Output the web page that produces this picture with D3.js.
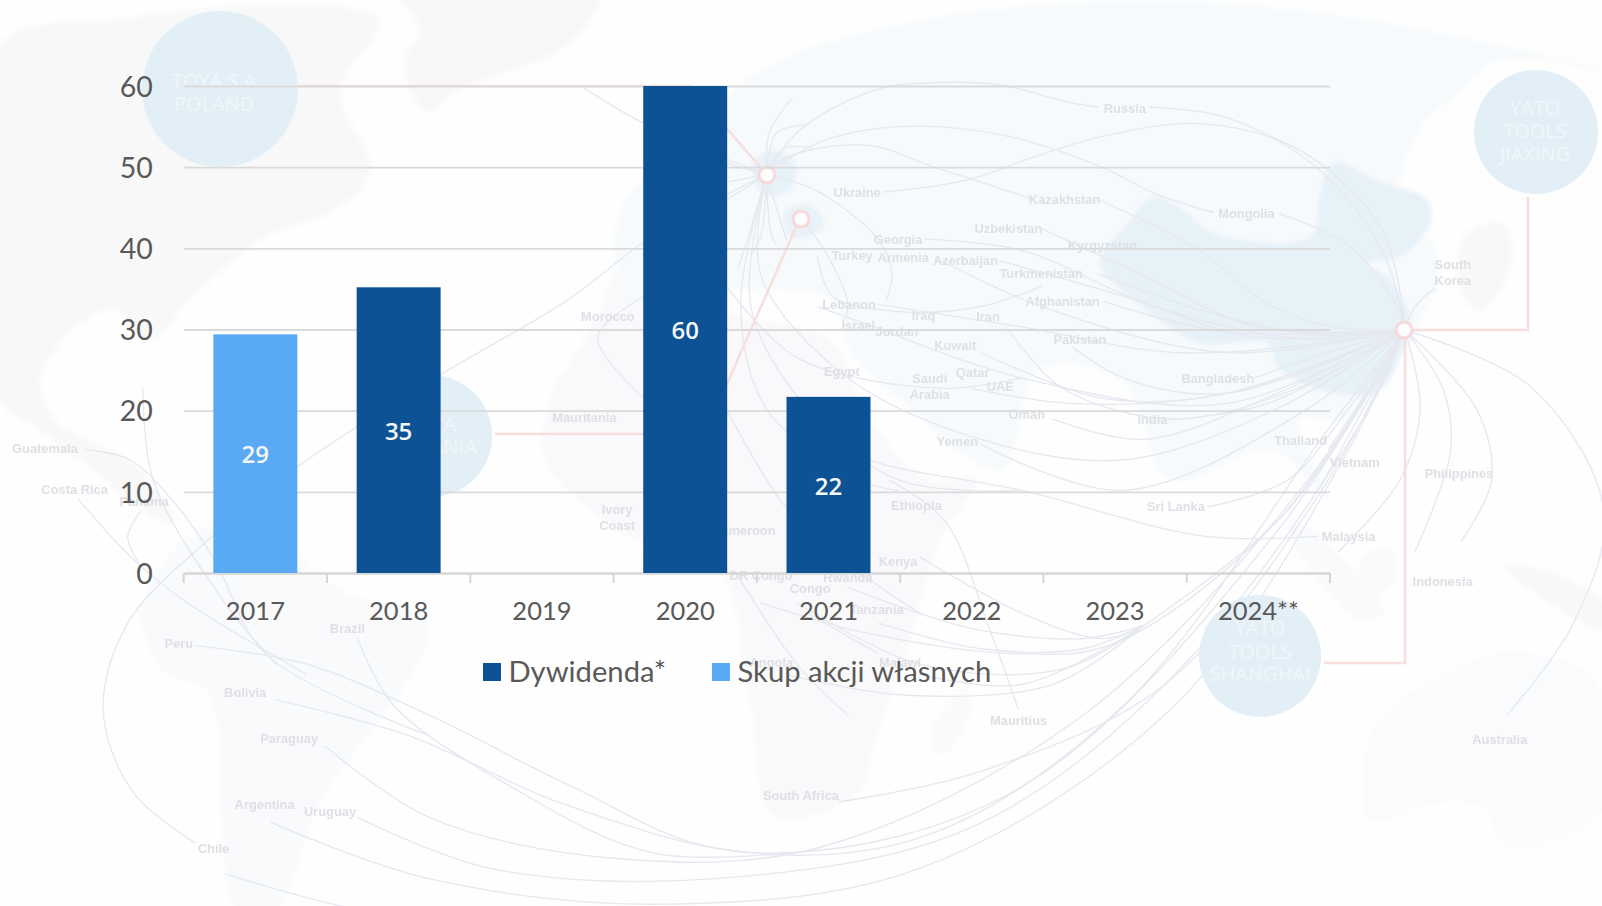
<!DOCTYPE html>
<html>
<head>
<meta charset="utf-8">
<script src="https://cdn.jsdelivr.net/npm/d3@7"></script>
<style>
html, body { margin: 0; padding: 0; background: #fefefe; }
svg { display: block; }
</style>
</head>
<body>
<script>
// Chart data
var years = ["2017", "2018", "2019", "2020", "2021", "2022", "2023", "2024**"];
var dividend = [null, 35.2, null, 60, 21.7, null, null, null];
var buyback = [29.4, null, null, null, null, null, null, null];
var yTicks = [0, 10, 20, 30, 40, 50, 60];
var seriesNames = ["Dywidenda*", "Skup akcji własnych"];
var seriesColors = ["#0d5295", "#5aa9f4"];

// Chart layout
var width = 1602;
var height = 906;
var plotLeft = 183.7;
var plotRight = 1330;
var plotTop = 86;
var plotBottom = 573;

// Background map, land shapes (page pixels)
var landShapes = [
	{ fill: "#f8f8f8", pts: [[0,45],[110,20],[300,5],[380,20],[340,90],[370,170],[335,210],[260,240],[190,300],[150,340],[115,310],[85,320],[55,350],[40,385],[60,425],[110,450],[140,470],[175,525],[150,515],[100,475],[40,430],[0,400]] },
	{ fill: "#f7f7f7", pts: [[400,-10],[600,-10],[590,20],[560,50],[510,70],[450,95],[430,112],[415,100],[405,60],[420,30]] },
	{ fill: "#f8fafc", pts: [[200,530],[280,540],[340,590],[428,623],[402,690],[364,740],[318,807],[275,910],[237,910],[207,690],[165,673],[142,607]] },
	{ fill: "#f9f9fb", pts: [[640,245],[590,330],[550,400],[545,460],[590,510],[640,540],[700,540],[730,590],[750,700],[775,817],[860,790],[875,740],[909,640],[940,540],[977,477],[930,480],[870,420],[830,340],[720,310]] },
	{ fill: "#f9fafb", pts: [[932,730],[965,690],[970,710],[950,750],[935,752]] },
	{ fill: "#f7fafc", pts: [[700,130],[760,70],[920,20],[1100,2],[1250,5],[1400,25],[1602,70],[1500,60],[1450,100],[1420,130],[1400,200],[1440,260],[1410,340],[1350,420],[1300,420],[1330,500],[1270,450],[1170,480],[1120,380],[1040,370],[1000,470],[900,400],[850,350],[830,300],[740,290],[630,300],[620,210]] },
	{ fill: "#e7f1f8", pts: [[1128,223],[1153,197],[1183,210],[1213,233],[1310,237],[1320,193],[1333,163],[1383,183],[1427,200],[1430,223],[1400,257],[1367,263],[1387,277],[1410,317],[1403,350],[1380,390],[1333,393],[1280,370],[1267,343],[1200,343],[1143,307],[1100,263]] },
	{ fill: "#f9fbfc", pts: [[1373,733],[1467,663],[1523,653],[1587,673],[1610,720],[1610,800],[1567,833],[1507,847],[1483,807],[1433,803],[1370,820]] },
	{ fill: "#f8fafb", pts: [[1361,560],[1385,548],[1399,570],[1380,592],[1362,585]] },
	{ fill: "#f8fafb", pts: [[1288,520],[1310,530],[1384,612],[1360,620],[1310,570]] },
	{ fill: "#f8f8f8", pts: [[1507,567],[1560,575],[1610,610],[1610,630],[1560,610]] },
	{ fill: "#f8f8f8", pts: [[1465,235],[1505,225],[1510,270],[1480,310],[1460,290]] },
	{ fill: "#e7f1f8", pts: [[752,165],[775,150],[795,165],[790,190],[765,195]] },
	{ fill: "#e9f2f8", pts: [[785,210],[810,205],[825,225],[805,238],[788,235]] }
];

// Company circles (page pixels)
var companyCircles = [
	{ cx: 220, cy: 89, r: 78, lines: [["TOYA S.A", 214, 88], ["POLAND", 214, 111]] },
	{ cx: 431, cy: 436, r: 61, lines: [["TOYA", 431, 431], ["ROMANIA", 431, 454]] },
	{ cx: 1536, cy: 132, r: 62, lines: [["YATO", 1535, 115], ["TOOLS", 1535, 138], ["JIAXING", 1535, 161]] },
	{ cx: 1260, cy: 656, r: 61, lines: [["YATO", 1260, 635], ["TOOLS", 1260, 659], ["SHANGHAI", 1260, 681]] }
];
var redLines = [
	[[298,86],[690,86],[767,175]],
	[[495,434],[705,434],[800,218]],
	[[1528,197],[1528,330],[1404,330]],
	[[1324,663],[1405,663],[1405,330]]
];
var markers = [[1404,330],[767,175],[801,219]];

// Country names and routes, read in the 1568 wide picture
var hub = [1375,323];
var pol = [750,171];
var countryLabels = [
	["Russia",1101,106],["Ukraine",839,188],["Kazakhstan",1042,195],["Mongolia",1220,209],["Uzbekistan",987,224],
	["Georgia",879,234],["Kyrgyzstan",1079,240],["Turkey",834,250],["Armenia",884,252],["Azerbaijan",945,255],
	["Turkmenistan",1019,268],["South",1422,259],["Korea",1422,275],["Afghanistan",1040,295],["Lebanon",831,298],
	["Morocco",595,310],["Iraq",904,309],["Iran",967,310],["Israel",840,319],["Jordan",878,324],["Pakistan",1057,332],
	["Kuwait",935,338],["Egypt",824,364],["Saudi",910,370],["Arabia",910,386],["Qatar",952,365],["UAE",979,378],
	["Bangladesh",1192,370],["Mauritania",572,409],["Oman",1005,406],["India",1128,411],["Yemen",937,432],
	["Guatemala",44,439],["Thailand",1273,431],["Vietnam",1326,453],["Philippines",1428,463],["Costa Rica",73,479],
	["Panama",141,491],["Ethiopia",897,495],["Sri Lanka",1151,496],["Ivory",604,499],["Coast",604,514],
	["Cameroon",728,519],["Malaysia",1320,525],["Kenya",879,550],["DR Congo",745,563],["Rwanda",830,565],
	["Congo",793,576],["Indonesia",1412,569],["Tanzania",858,597],["Brazil",340,615],["Peru",175,630],
	["Angola",755,648],["Malawi",881,648],["Bolivia",240,678],["Mauritius",997,705],["Paraguay",283,723],
	["Australia",1468,724],["South Africa",784,779],["Argentina",259,787],["Uruguay",323,794],["Chile",209,830]
];
var routes = [
	[[865,188],[947,176],[1011,154],[1077,134],[1175,121],[1272,147],[1353,225],hub],
	[pol,[783,127],[860,87],[913,81],[979,83],[1045,100],[1075,105]],
	[[1125,105],[1200,115],[1290,165],[1355,250],hub],
	[pol,[800,140],[880,124],[980,132],[1077,163],[1132,190],[1188,208]],
	[[1252,209],[1320,240],[1365,295],hub],
	[pol,[770,154],[848,142],[913,163],[1008,194]],
	[[1077,196],[1174,245],[1240,297],[1305,320],hub],
	[[1020,224],[1120,270],[1230,320],hub],
	[[1075,268],[1180,305],[1290,328],hub],
	[[978,255],[1100,290],[1230,330],hub],
	[[905,234],[1000,245],[1130,300],[1280,332],hub],
	[[915,252],[1020,300],[1200,345],hub],
	[[1080,295],[1200,325],hub],
	[[985,320],[1040,380],[1150,410],[1270,380],hub],
	[[960,345],[1080,390],[1200,385],hub],
	[[1050,340],[1100,370],[1200,385],hub],
	[[950,380],[1050,395],[1200,385],hub],
	[[1030,410],[1120,430],[1250,385],hub],
	[[960,435],[1100,480],[1280,400],hub],
	[[860,298],[1000,320],[1150,345],[1300,335],hub],
	[[800,300],[850,318],[1000,370],[1200,395],hub],
	[[1145,411],[1240,395],hub],
	[[1228,370],[1300,345],hub],
	[[1183,496],[1260,470],[1320,400],hub],
	[[1290,525],[1180,525],[1000,480],[850,450],[770,410]],
	[[1300,440],[1340,380],hub],
	[[1290,480],[1340,390],hub],
	[[1405,282],[1385,300],hub],
	[hub,[1412,380],[1420,440],[1385,540]],
	[hub,[1445,400],[1460,470],[1430,530]],
	[hub,[1500,380],[1570,500],[1540,610],[1475,700]],
	[hub,[1390,400],[1370,470],[1310,540]],
	// South America
	[[190,632],[300,650],[420,700],[560,770],[700,830],[900,820],[1100,690],[1300,420],hub],
	[[270,685],[400,720],[560,790],[760,835],[1000,770],[1250,520],hub],
	[[318,730],[420,800],[600,840],[800,830],[1060,700],[1280,470],hub],
	[[350,800],[480,850],[700,860],[950,810],[1150,660],[1340,400],hub],
	[[265,805],[420,860],[650,885],[900,850],[1150,690],[1320,440],hub],
	[[220,855],[350,890],[600,915]],
	[[350,625],[385,690],[500,770],[640,835],[800,832]],
	[[83,440],[127,450],[174,496],[210,548],[260,640],[420,720]],
	[[76,488],[131,548],[179,587],[300,660]],
	[[138,500],[125,525],[135,550]],
	[[140,380],[150,470],[220,590],[270,650]],
	// long arc from Poland round to Chile
	[pol,[640,230],[555,294],[431,367],[291,457],[202,530],[125,610],[101,695],[130,775],[191,825]],
	[pol,[629,120],[570,85]],
	// Africa to the hub, the fan near 2023
	[[745,590],[850,620],[1000,640],[1090,630],[1250,510],hub],
	[[830,575],[950,615],[1060,625],[1120,612]],
	[[860,610],[960,635],[1060,635],[1120,612]],
	[[780,590],[900,650],[1040,655],[1120,612]],
	[[770,660],[880,680],[1030,670],[1120,612]],
	[[900,660],[1000,670],[1120,612]],
	[[900,545],[1000,600],[1080,625],[1120,612]],
	[[820,785],[960,755],[1140,670],[1300,470],hub],
	[[997,695],[970,620],[925,510],[870,470]],
	[[1120,612],[1260,500],hub],
	[[711,400],[780,510],[900,600]],
	[[720,560],[780,650],[830,700]],
	[[790,600],[860,640]],
	// Poland fan
	[pol,[753,130],[775,96]],
	[pol,[760,130],[790,122]],
	[pol,[768,145],[795,145]],
	[pol,[712,195]],
	[pol,[712,178]],
	[pol,[712,160]],
	[pol,[745,230],[735,250]],
	[pol,[755,230],[760,240]],
	[pol,[765,220],[770,235]],
	[pol,[730,240],[722,262]],
	[pol,[725,300],[750,400],[840,470],[880,480]],
	[pol,[735,300],[790,400],[880,470],[1000,480]],
	[pol,[745,270],[830,370],[960,430],[1100,450],[1250,400],hub],
	[pol,[800,187],[860,235],[873,267],[867,295]],
	[[800,250],[815,290],[880,305],[960,300],[1020,280]],
	[[784,214],[810,250],[830,300],[825,315]],
	[[711,280],[780,350],[920,380],[1000,370]],
	[[630,290],[585,330],[630,390]]
];

// Build the page
var svg = d3.select("body").append("svg")
	.attr("width", width)
	.attr("height", height)
	.style("font-family", "Lato, sans-serif");

svg.append("rect").attr("width", width).attr("height", height).attr("fill", "#fefefe");

function drawMap() {
	var blob = d3.line().curve(d3.curveCatmullRomClosed);
	var landG = svg.append("g").style("filter", "blur(2px)");
	landG.selectAll("path").data(landShapes).enter().append("path")
		.attr("d", function(d) { return blob(d.pts); })
		.attr("fill", function(d) { return d.fill; });

	// routes and names use picture coordinates, so scale the group up
	var picG = svg.append("g")
		.attr("transform", "scale(" + (width / 1568) + ")")
		.style("filter", "blur(0.35px)");
	var curve = d3.line().curve(d3.curveCatmullRom);
	picG.selectAll("path").data(routes).enter().append("path")
		.attr("d", curve)
		.attr("fill", "none")
		.attr("stroke", "#e6e8f0")
		.attr("stroke-width", 1.3);
	picG.selectAll("text").data(countryLabels).enter().append("text")
		.attr("x", function(d) { return d[1]; })
		.attr("y", function(d) { return d[2]; })
		.attr("dy", ".35em")
		.attr("text-anchor", "middle")
		.attr("font-family", "'Liberation Sans', sans-serif")
		.attr("font-weight", "bold")
		.attr("font-size", 12.6)
		.attr("fill", "#dfe0e5")
		.text(function(d) { return d[0]; });

	var flat = d3.line();
	var netG = svg.append("g");
	netG.selectAll("path").data(redLines).enter().append("path")
		.attr("d", flat)
		.attr("fill", "none")
		.attr("stroke", "#f7dfe0")
		.attr("stroke-width", 2.6);
	netG.selectAll("circle").data(markers).enter().append("circle")
		.attr("cx", function(d) { return d[0]; })
		.attr("cy", function(d) { return d[1]; })
		.attr("r", 8)
		.attr("fill", "#fdfdfd")
		.attr("stroke", "#f7d9dc")
		.attr("stroke-width", 3);

	var comp = svg.append("g").selectAll("g").data(companyCircles).enter().append("g");
	comp.append("circle")
		.attr("cx", function(d) { return d.cx; })
		.attr("cy", function(d) { return d.cy; })
		.attr("r", function(d) { return d.r; })
		.attr("fill", "#e3eff6");
	comp.selectAll("text").data(function(d) { return d.lines; }).enter().append("text")
		.attr("x", function(d) { return d[1]; })
		.attr("y", function(d) { return d[2]; })
		.attr("text-anchor", "middle")
		.attr("font-family", "'Open Sans', sans-serif")
		.attr("font-size", 20)
		.attr("fill", "#f0f6fa")
		.text(function(d) { return d[0]; });
}

function drawChart() {
	var x = d3.scaleBand().domain(years).range([plotLeft, plotRight]).paddingInner(0.414).paddingOuter(0.207);
	var y = d3.scaleLinear().domain([0, 60]).range([plotBottom, plotTop]);
	var step = x.step();

	var yAxis = svg.append("g")
		.attr("transform", "translate(" + plotLeft + ",0)")
		.call(d3.axisLeft(y).tickValues(yTicks).tickSize(-(plotRight - plotLeft)).tickPadding(31));
	yAxis.select(".domain").remove();
	yAxis.selectAll("line").attr("stroke", "#dadada").attr("stroke-width", 1.8);
	yAxis.selectAll("text")
		.attr("dy", ".36em")
		.attr("font-family", "Lato, sans-serif")
		.attr("font-size", 28.5)
		.attr("fill", "#595959");

	var xAxis = svg.append("g")
		.attr("transform", "translate(0," + plotBottom + ")")
		.call(d3.axisBottom(x).tickSize(0).tickPadding(29));
	xAxis.select(".domain").attr("stroke", "#d6d6d6").attr("stroke-width", 2);
	xAxis.selectAll("text")
		.attr("font-family", "Lato, sans-serif")
		.attr("font-size", 25.5)
		.attr("fill", "#595959");

	// ticks sit between the categories
	var edges = [0, 1, 2, 3, 4, 5, 6, 7, 8];
	svg.append("g").selectAll("line").data(edges).enter().append("line")
		.attr("x1", function(d) { return plotLeft + d * step; })
		.attr("x2", function(d) { return plotLeft + d * step; })
		.attr("y1", plotBottom)
		.attr("y2", plotBottom + 10)
		.attr("stroke", "#d6d6d6")
		.attr("stroke-width", 2);

	var series = [dividend, buyback];
	series.forEach(function(vals, si) {
		var rows = years.map(function(yr, i) { return { year: yr, val: vals[i] }; })
			.filter(function(d) { return d.val != null; });
		var g = svg.append("g");
		g.selectAll("rect").data(rows).enter().append("rect")
			.attr("x", function(d) { return x(d.year); })
			.attr("y", function(d) { return y(d.val); })
			.attr("width", x.bandwidth())
			.attr("height", function(d) { return plotBottom - y(d.val); })
			.attr("fill", seriesColors[si]);
		g.selectAll("text").data(rows).enter().append("text")
			.attr("x", function(d) { return x(d.year) + x.bandwidth() / 2; })
			.attr("y", function(d) { return (y(d.val) + plotBottom) / 2 + 1; })
			.attr("dy", ".36em")
			.attr("text-anchor", "middle")
			.attr("font-family", "'Open Sans', sans-serif")
			.attr("font-weight", 600)
			.attr("font-size", 24)
			.attr("fill", "#f4f6f8")
			.text(function(d) { return Math.round(d.val); });
	});

	// Legend
	var legendX = [483, 712];
	var legend = svg.append("g").selectAll("g").data(seriesNames).enter().append("g")
		.attr("transform", function(d, i) { return "translate(" + legendX[i] + ",663)"; });
	legend.append("rect")
		.attr("width", 18)
		.attr("height", 18)
		.attr("fill", function(d, i) { return seriesColors[i]; });
	legend.append("text")
		.attr("x", 25.5)
		.attr("y", 19)
		.attr("font-family", "Lato, sans-serif")
		.attr("font-size", 29.2)
		.attr("fill", "#595959")
		.text(function(d) { return d; });
}

drawMap();
drawChart();
</script>
</body>
</html>
